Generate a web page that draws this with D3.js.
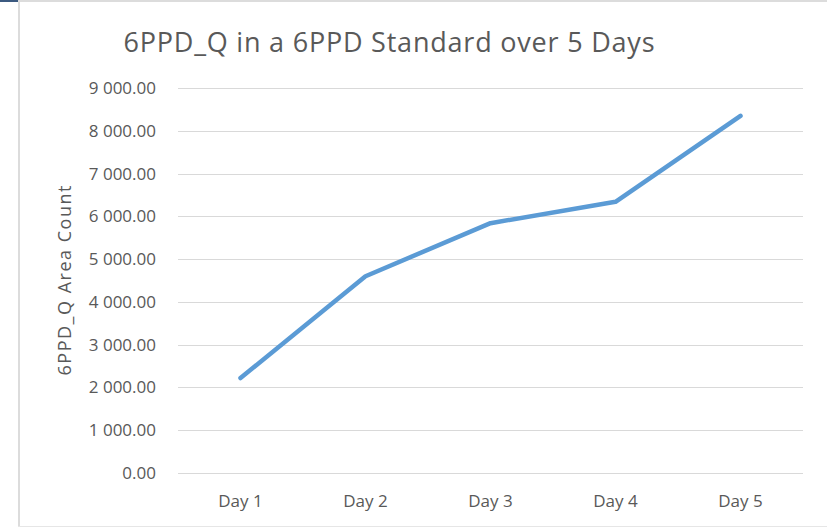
<!DOCTYPE html>
<html>
<head>
<meta charset="utf-8">
<script src="https://cdn.jsdelivr.net/npm/d3@7"></script>
<style>
  body { margin: 0; background: #fff; }
  text { font-family: "Open Sans", "Noto Sans", sans-serif; fill: #595959; }
</style>
</head>
<body>
<div id="chart"></div>
<script>
var days = ["Day 1", "Day 2", "Day 3", "Day 4", "Day 5"];
var areaCounts = [2220, 4600, 5840, 6340, 8350];
var yTicks = [0, 1000, 2000, 3000, 4000, 5000, 6000, 7000, 8000, 9000];

var lineColor = "#5b9bd5";
var width = 827, height = 527;
var margin = { top: 88, right: 24, bottom: 54, left: 178 };

var svg = d3
  .select("#chart")
  .append("svg")
  .attr("width", width)
  .attr("height", height);

// frame of the screenshot
svg.append("rect").attr("x", 0).attr("y", 0).attr("width", width).attr("height", 2).style("fill", "#dcdcdc");
svg.append("rect").attr("x", 0).attr("y", 0).attr("width", 18).attr("height", 2).style("fill", "#3c5a80");
svg.append("rect").attr("x", 18).attr("y", 0).attr("width", 2).attr("height", height).style("fill", "#dcdcdc");
svg.append("rect").attr("x", 18).attr("y", height - 1).attr("width", width).attr("height", 1).style("fill", "#e6e6e6");

var x = d3.scaleBand(days, [margin.left, width - margin.right]);
var y = d3.scaleLinear([0, 9000], [height - margin.bottom, margin.top]);

var fmt = function (d) {
  return d3.format(",.2f")(d).replace(/,/g, " ");
};

// gridlines
svg
  .append("g")
  .selectAll("line")
  .data(yTicks)
  .join("line")
  .attr("x1", margin.left)
  .attr("x2", width - margin.right)
  .attr("y1", (d) => Math.round(y(d)) + 0.5)
  .attr("y2", (d) => Math.round(y(d)) + 0.5)
  .style("stroke", "#d9d9d9")
  .style("stroke-width", 1);

var yAxis = d3.axisLeft(y).tickValues(yTicks).tickFormat(fmt).tickSize(0).tickPadding(22);
var gy = svg
  .append("g")
  .attr("transform", `translate(${margin.left}, 0)`)
  .call(yAxis);
gy.select(".domain").remove();
gy.selectAll("text").style("font-size", "17px").style("fill", "#595959");

var xAxis = d3.axisBottom(x).tickSize(0).tickPadding(22);
var gx = svg
  .append("g")
  .attr("transform", `translate(0, ${height - margin.bottom})`)
  .call(xAxis);
gx.select(".domain").remove();
gx.selectAll("text").style("font-size", "17px").style("fill", "#595959");

var line = d3
  .line()
  .x((d, i) => x(days[i]) + x.bandwidth() / 2)
  .y((d) => y(d));

svg
  .append("path")
  .datum(areaCounts)
  .attr("d", line)
  .style("fill", "none")
  .style("stroke", lineColor)
  .style("stroke-width", 4.5)
  .style("stroke-linecap", "round")
  .style("stroke-linejoin", "round");

svg
  .append("text")
  .attr("x", 389)
  .attr("y", 52)
  .attr("text-anchor", "middle")
  .attr("textLength", 531)
  .attr("lengthAdjust", "spacing")
  .style("font-size", "27px")
  .text("6PPD_Q in a 6PPD Standard over 5 Days");

svg
  .append("text")
  .attr("transform", `translate(71, ${(y(0) + y(9000)) / 2}) rotate(-90)`)
  .attr("text-anchor", "middle")
  .attr("textLength", 190)
  .attr("lengthAdjust", "spacing")
  .style("font-size", "18px")
  .text("6PPD_Q Area Count");
</script>
</body>
</html>
